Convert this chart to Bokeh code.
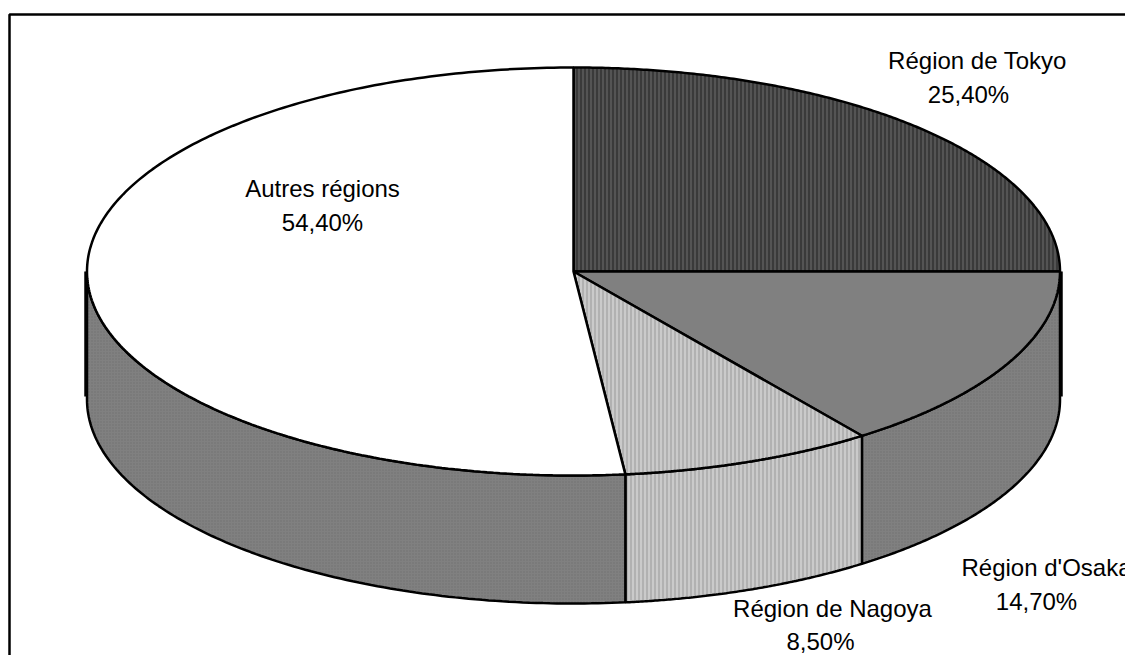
import numpy as np
from bokeh.plotting import figure
from bokeh.embed import file_html
from bokeh.resources import INLINE
from bokeh.core.properties import value

# Data
regions = ["Région de Tokyo", "Région d'Osaka", "Région de Nagoya", "Autres régions"]
labels = ["25,40%", "14,70%", "8,50%", "54,40%"]
drawn_shares = [25.0, 14.9, 8.4, 51.7]
top_fill = ["#3a3a3a", "#808080", "#cacaca", "#ffffff"]
top_hatch = ["#5c5c5c", None, "#a8a8a8", None]
side_fill = [None, "#808080", "#cacaca", "#808080"]
side_hatch = [None, "dot", "vertical_line", "dot"]
side_hatch_color = [None, "#6f6f6f", "#a8a8a8", "#6f6f6f"]
name_xy = [(977, 60), (1046, 567), (832, 608), (322, 188)]
pct_xy = [(968, 94), (1036, 601), (820, 641), (322, 222)]

W, H = 1125, 655
CX, CY, RX, RY, DEPTH = 573, 271, 486.5, 204, 128

p = figure(width=W, height=H, x_range=(0, W), y_range=(H, 0), output_backend="svg",
           toolbar_location=None, min_border=0, outline_line_color=None,
           background_fill_color="white", border_fill_color="white")
p.axis.visible = False
p.grid.visible = False

# Outer frame, open on the right and bottom
p.line([9, 9, W], [H, 14, 14], line_color="black", line_width=2.5)


def ell(a, dy=0.0):
    return CX + RX * np.sin(a), CY - RY * np.cos(a) + dy


edges = np.concatenate([[0], np.cumsum(drawn_shares)]) / sum(drawn_shares) * 2 * np.pi

# Side wall
for i in range(len(regions)):
    if side_fill[i] is None:
        continue
    a0 = max(edges[i], np.pi / 2)
    a1 = min(edges[i + 1], 3 * np.pi / 2)
    t = np.linspace(a0, a1, 120)
    x0, y0 = ell(t)
    x1, y1 = ell(t[::-1], DEPTH)
    p.patch(np.r_[x0, x1], np.r_[y0, y1], fill_color=side_fill[i], line_color="black", line_width=2.5,
            hatch_pattern=side_hatch[i], hatch_color=side_hatch_color[i],
            hatch_scale=3 if side_hatch[i] == "dot" else 4, hatch_weight=1 if side_hatch[i] == "dot" else 1.5)

# Vertical silhouette edges sit slightly outside the ellipse
for sx in (-1, 1):
    p.line([CX + sx * (RX + 1.5)] * 2, [CY, CY + DEPTH - 3], line_color="black", line_width=2.5)

# Top face
for i in range(len(regions)):
    t = np.linspace(edges[i], edges[i + 1], 240)
    x, y = ell(t)
    kw = {}
    if top_hatch[i]:
        kw = dict(hatch_pattern="vertical_line", hatch_color=top_hatch[i], hatch_scale=4, hatch_weight=1.5)
    p.patch(np.r_[CX, x], np.r_[CY, y], fill_color=top_fill[i], line_color="black", line_width=2.5, **kw)

for xy, txt in list(zip(name_xy, regions)) + list(zip(pct_xy, labels)):
    p.text([xy[0]], [xy[1]], text=[txt], text_align="center", text_baseline="middle",
           text_font=value("Liberation Sans"), text_font_size="24px", text_color="black")

open("out.html", "w").write(file_html(p, INLINE))
